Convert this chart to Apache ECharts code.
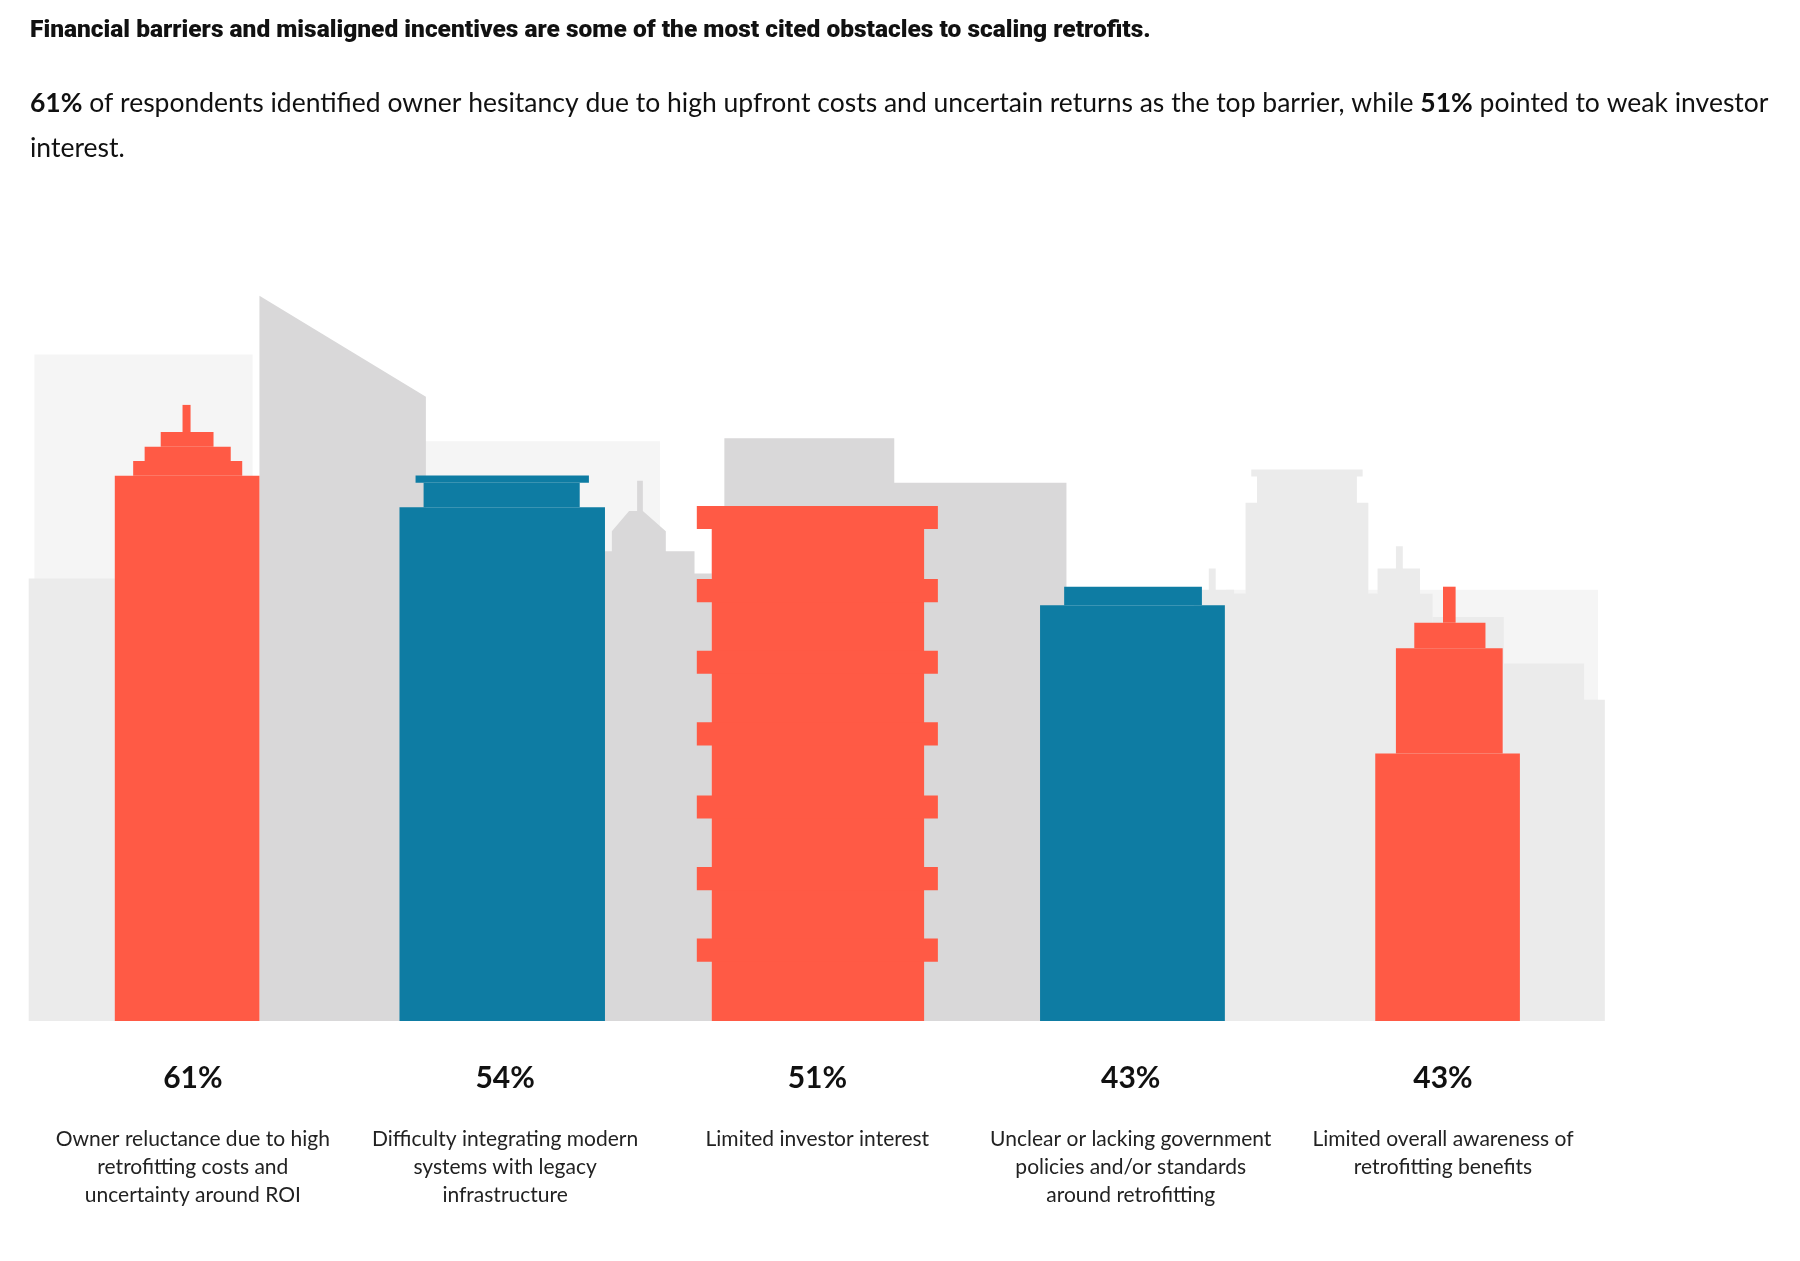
<!DOCTYPE html>
<html><head><meta charset="utf-8">
<script src="https://cdn.jsdelivr.net/npm/echarts@6/dist/echarts.min.js"></script>
<style>body{margin:0;background:#fff}#c{width:1800px;height:1261px}</style></head>
<body><div id="c"></div>
<script>
const categories = ["Owner reluctance due to high\nretrofitting costs and\nuncertainty around ROI","Difficulty integrating modern\nsystems with legacy\ninfrastructure","Limited investor interest","Unclear or lacking government\npolicies and/or standards\naround retrofitting","Limited overall awareness of\nretrofitting benefits"];
const values = [61, 54, 51, 43, 43];
const colors = ["#ff5a45","#0e7ca3","#ff5a45","#0e7ca3","#ff5a45"];
// building silhouettes: rects [x0, x1, fracBottom, fracTop] relative to value
const shapes = [
  [[100,226,0,0.885],[116,211,0.885,0.909],[126,201,0.909,0.932],[140,186,0.932,0.956],[159,166,0.956,1]],
  [[348,527,0,0.942],[369,505,0.942,0.987],[362,513,0.987,1]],
  [[620,805,0,1],[607,817,0.955,1],[607,817,0.813,0.858],[607,817,0.674,0.719],[607,817,0.535,0.580],[607,817,0.393,0.438],[607,817,0.254,0.299],[607,817,0.115,0.160]],
  [[906,1067,0,0.957],[927,1047,0.957,1]],
  [[1198,1324,0,0.616],[1216,1309,0.616,0.858],[1232,1294,0.858,0.917],[1257,1268,0.917,1]]
];
const centers = [168, 440, 712, 985, 1257];
// background skyline polygons [x, height] and fill
const skyline = [
  {c:"#f5f5f5", p:[[30,0],[30,66],[220,66],[220,0]]},
  {c:"#f5f5f5", p:[[370,0],[370,57.4],[575,57.4],[575,0]]},
  {c:"#f5f5f5", p:[[1068,0],[1068,42.7],[1392,42.7],[1392,0]]},
  {c:"#ebebeb", p:[[25,0],[25,43.8],[100,43.8],[100,0]]},
  {c:"#ebebeb", p:[[1085,0],[1085,51.3],[1095,51.3],[1095,53.9],[1090,53.9],[1090,54.6],[1187,54.6],[1187,53.9],[1182,53.9],[1182,51.3],[1192,51.3],[1192,0]]},
  {c:"#ebebeb", p:[[1040,0],[1040,42.7],[1053,42.7],[1053,44.8],[1059,44.8],[1059,42.7],[1075,42.7],[1075,0]]},
  {c:"#ebebeb", p:[[1067,0],[1067,42.3],[1085,42.3],[1085,0]]},
  {c:"#ebebeb", p:[[1192,0],[1192,42.3],[1200,42.3],[1200,44.8],[1216,44.8],[1216,47],[1222,47],[1222,44.8],[1237,44.8],[1237,42.3],[1248,42.3],[1248,0]]},
  {c:"#ebebeb", p:[[1068,0],[1068,42.3],[1200,42.3],[1200,0]]},
  {c:"#ebebeb", p:[[1248,0],[1248,40],[1310,40],[1310,0]]},
  {c:"#ebebeb", p:[[1310,0],[1310,35.4],[1380,35.4],[1380,31.8],[1398,31.8],[1398,0]]},
  {c:"#d9d8d9", p:[[226,0],[226,71.8],[371,61.8],[371,0]]},
  {c:"#d9d8d9", p:[[527,0],[527,46.5],[533,46.5],[533,48.5],[548,50.5],[555,50.5],[555,53.5],[560,53.5],[560,50.5],[580,48.5],[580,46.5],[605,46.5],[605,44.3],[620,44.3],[620,0]]},
  {c:"#d9d8d9", p:[[631,0],[631,57.7],[779,57.7],[779,53.3],[929,53.3],[929,0]]}
];

const chart = echarts.init(document.getElementById('c'));
chart.setOption({
  animation:false,
  title:[{text:"Financial barriers and misaligned incentives are some of the most cited obstacles to scaling retrofits.",left:25,top:13,textStyle:{fontFamily:"Roboto",fontSize:24.5,fontWeight:900,color:"#111"}},
    {text:"{b|61%} of respondents identified owner hesitancy due to high upfront costs and uncertain returns as the top barrier, while {b|51%} pointed to weak investor\ninterest.",left:25,top:76,textStyle:{fontFamily:"Lato",fontSize:26.5,fontWeight:'normal',color:"#111",lineHeight:45,rich:{b:{fontFamily:"Lato",fontSize:26.5,fontWeight:"bold",color:"#111",lineHeight:45}}}}],
  grid:{left:0,width:1800,bottom:240,height:1010},
  xAxis:{type:'value',min:0,max:1568,show:false},
  yAxis:{type:'value',min:0,max:100,show:false},
  series:[
    {type:'custom',data:skyline.map((s,i)=>i),silent:true,renderItem:(params,api)=>{
      const s=skyline[params.dataIndex];
      return {type:'polygon',shape:{points:s.p.map(q=>api.coord(q))},style:{fill:s.c}};
    }},
    {type:'custom',data:values.map((v,i)=>[centers[i],v]),renderItem:(params,api)=>{
      const i=params.dataIndex, v=api.value(1), ch=[];
      shapes[i].forEach(r=>{
        const a=api.coord([r[0],v*r[3]]), b=api.coord([r[1],v*r[2]]);
        ch.push({type:'rect',shape:{x:a[0],y:a[1],width:b[0]-a[0],height:b[1]-a[1]},style:{fill:colors[i]}});
      });
      const base=api.coord([centers[i],0]);
      ch.push({type:'text',x:base[0],y:base[1]+42,style:{text:v+'%',fontFamily:"Lato",fontWeight:'bold',fontSize:30,fill:'#111',align:'center',verticalAlign:'top'}});
      ch.push({type:'text',x:base[0],y:base[1]+104,style:{text:categories[i],fontFamily:"Lato",fontSize:21,lineHeight:28,fill:'#222',align:'center',verticalAlign:'top'}});
      return {type:'group',children:ch};
    }}
  ]
});
</script></body></html>
